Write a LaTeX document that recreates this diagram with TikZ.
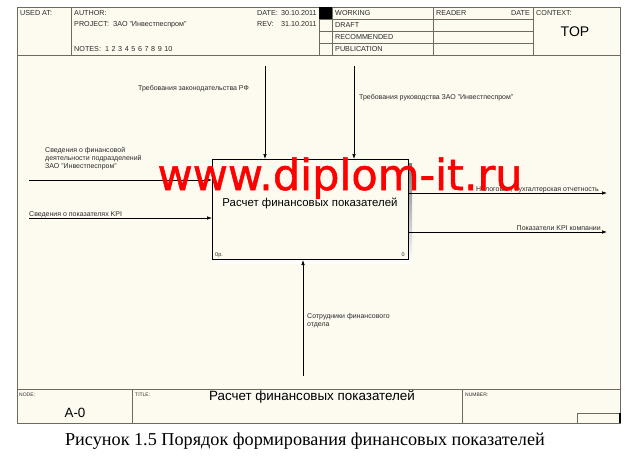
\documentclass[tikz,border=0pt]{standalone}
\usepackage{fontspec}
\setmainfont{Liberation Sans}
\newfontfamily\serifcap{Liberation Serif}
\newfontfamily\wmfont[FakeBold=1.2]{DejaVu Sans}
\usetikzlibrary{arrows.meta}
\definecolor{paper}{HTML}{FDFAF0}
\definecolor{frameink}{HTML}{6E6A60}
\definecolor{txt}{HTML}{2A2A2A}
\definecolor{shade}{HTML}{B0AEA8}
\definecolor{wmred}{HTML}{FF0000}
\begin{document}
\begin{tikzpicture}[x=1pt,y=-1pt,
  fr/.style={draw=frameink,line width=0.8pt},
  hdr/.style={font=\fontsize{7.2}{8}\selectfont,inner sep=0pt,anchor=base west,text=txt},
  tiny/.style={font=\fontsize{5}{6}\selectfont,inner sep=0pt,anchor=base west,text=txt},
  lab/.style={font=\fontsize{7}{8}\selectfont,inner sep=0pt,text=txt,align=left},
  flow/.style={draw=black,line width=0.7pt,-{Latex[length=5pt,width=3.6pt]}},
  big/.style={font=\fontsize{13.4}{15}\selectfont,inner sep=0pt,text=black}
]
\useasboundingbox (0,0) rectangle (640,460);
\fill[white] (0,0) rectangle (640,460);
% frame
\filldraw[fr,fill=paper] (17,7) rectangle (620,423);
\draw[fr] (17,55) -- (620,55);
\draw[fr] (71,7) -- (71,55);
\draw[fr] (319,7) -- (319,55);
\fill[black] (319,7) rectangle (332,19);
\draw[fr] (332,7) -- (332,55);
\draw[fr] (319,19) -- (533,19);
\draw[fr] (319,31) -- (533,31);
\draw[fr] (319,43) -- (533,43);
\draw[fr] (433,7) -- (433,55);
\draw[fr] (533,7) -- (533,55);
% footer
\draw[fr] (17,389) -- (620,389);
\draw[fr] (132,389) -- (132,423);
\draw[fr] (462,389) -- (462,423);
\draw[fr] (577,413) rectangle (620,423);
\draw[black,line width=2pt] (620,413) -- (620,423);
% header text
\node[hdr] (usedat) at (20,16) {USED AT:};
\node[hdr] (author) at (74,16) {AUTHOR:};
\node[hdr] (project) at (74,27) {PROJECT:\hspace{4pt}ЗАО "Инвестпеспром"};
\node[hdr] (notes) at (74,51.5) {NOTES:\hspace{4pt}1\hspace{2.6pt}2\hspace{2.6pt}3\hspace{2.6pt}4\hspace{2.6pt}5\hspace{2.6pt}6\hspace{2.6pt}7\hspace{2.6pt}8\hspace{2.6pt}9\hspace{2.6pt}10};
\node[hdr] (date) at (257,16) {\makebox[24pt][l]{DATE:}30.10.2011};
\node[hdr] (rev) at (257,27) {\makebox[24pt][l]{REV:}31.10.2011};
\node[hdr] (working) at (335,15.5) {WORKING};
\node[hdr] (draft) at (335,27.5) {DRAFT};
\node[hdr] (recom) at (335,39.5) {RECOMMENDED};
\node[hdr] (publ) at (335,51.5) {PUBLICATION};
\node[hdr] (reader) at (436,16) {READER};
\node[hdr,anchor=base east] (rdate) at (530,16) {DATE};
\node[hdr] (context) at (536,16) {CONTEXT:};
\node[font=\fontsize{14}{16}\selectfont,inner sep=0pt,text=black] (top) at (575,32) {TOP};
% footer text
\node[tiny] (nodel) at (19,396) {NODE:};
\node[tiny] (titlel) at (135,396) {TITLE:};
\node[tiny] (numl) at (465,396) {NUMBER:};
\node[big] (a0) at (75,413) {A-0};
\node[big] (ftitle) at (312,397) {Расчет финансовых показателей};
% process box
\fill[shade] (216,163) rectangle (412,263);
\node[draw=black,line width=1pt,fill=paper,minimum width=196pt,minimum height=100pt,anchor=north west,inner sep=0pt] (proc) at (212,159) {};
\node[font=\fontsize{11.4}{13}\selectfont,inner sep=0pt,text=black] (ptitle) at (310,203) {Расчет финансовых показателей};
\node[tiny,font=\fontsize{5.5}{6}\selectfont] (cost) at (215,256.5) {0р.};
\node[tiny,font=\fontsize{5.5}{6}\selectfont,anchor=base east] (pnum) at (405,256.5) {0};
% connectors
\coordinate (c1s) at (265,66);
\coordinate (c2s) at (354,66);
\coordinate (i1s) at (29,180);
\coordinate (i2s) at (29,218);
\coordinate (o1e) at (607,193);
\coordinate (o2e) at (607,232);
\coordinate (m1s) at (303,376);
\draw[flow] (c1s) -- (c1s |- proc.north);
\draw[flow] (c2s) -- (c2s |- proc.north);
\draw[flow] (i1s) -- (i1s -| proc.west);
\draw[flow] (i2s) -- (i2s -| proc.west);
\draw[flow] (o1e -| proc.east) -- (o1e);
\draw[flow] (o2e -| proc.east) -- (o2e);
\draw[flow] (m1s) -- (m1s |- proc.south);
% arrow labels
\node[lab,anchor=base west] (lc1) at (138,90.5) {Требования законодательства РФ};
\node[lab,anchor=base west] (lc2) at (359,99.5) {Требования руководства ЗАО "Инвестпеспром"};
\node[lab,anchor=north west] (li1) at (45,147) {Сведения о финансовой\\деятельности подразделений\\ЗАО "Инвестпеспром"};
\node[lab,anchor=base west] (li2) at (29,216) {Сведения о показателях KPI};
\node[lab,anchor=base east] (lo1) at (599,191) {Налоговая, бухгалтерская отчетность};
\node[lab,anchor=base east] (lo2) at (601,230) {Показатели KPI компании};
\node[lab,anchor=north west] (lm1) at (307,313) {Сотрудники финансового\\отдела};
% watermark
\node[font=\wmfont\fontsize{43}{50}\selectfont,text=wmred,inner sep=0pt,anchor=base] (wm) at (340,190) {www.diplom-it.ru};
% caption
\node[font=\serifcap\fontsize{18.2}{21}\selectfont,inner sep=0pt,text=black] (cap) at (305,441) {Рисунок 1.5 Порядок формирования финансовых показателей};
\end{tikzpicture}
\end{document}
